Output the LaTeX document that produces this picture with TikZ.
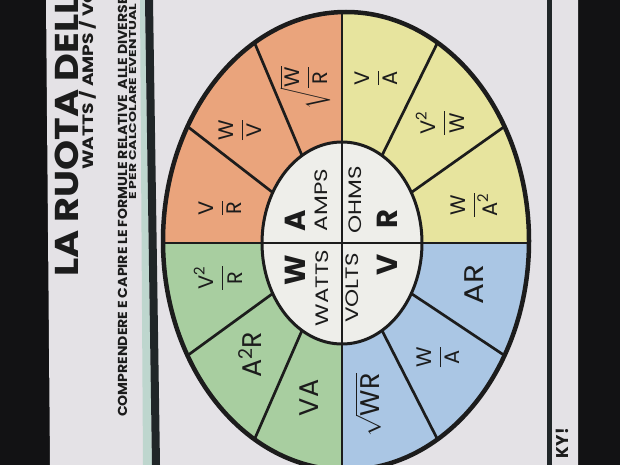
\documentclass[tikz,border=0pt]{standalone}
\usepackage{amsmath}
\usepackage{graphicx}
\usepackage{fontspec}
\setmainfont{Poppins}
\usetikzlibrary{calc}

\definecolor{photoblack}{RGB}{18,18,20}
\definecolor{paper}{RGB}{228,226,230}
\definecolor{mint}{RGB}{190,214,206}
\definecolor{frame}{RGB}{32,38,40}
\definecolor{ink}{RGB}{28,28,28}
\definecolor{ampsorange}{RGB}{234,164,124}
\definecolor{ohmsyellow}{RGB}{231,228,158}
\definecolor{voltsblue}{RGB}{170,198,228}
\definecolor{wattsgreen}{RGB}{168,206,160}
\definecolor{hub}{RGB}{238,238,234}

\newcommand{\frc}[2]{$\dfrac{\text{#1}}{\text{#2}}$}
\newcommand{\wide}[2][1.28]{\scalebox{#1}[1]{#2}}

\tikzset{
  rot/.style={rotate=90, text=ink, inner sep=0pt},
  formula/.style={rot, font=\fontsize{21}{21}\selectfont},
  single/.style={rot, font=\fontsize{27}{27}\selectfont},
  unit/.style={rot, font=\bfseries\fontsize{29}{29}\selectfont},
  unitname/.style={rot, font=\fontsize{18}{18}\selectfont},
  heading/.style={rot, anchor=base west, font=\bfseries\fontsize{#1}{#1}\selectfont},
  spoke/.style={draw=ink, line width=2.7pt},
}

\begin{document}
\begin{tikzpicture}[x=1pt, y=-1pt]
  \useasboundingbox (0,0) rectangle (620,465);
  % photo and poster
  \fill[photoblack] (0,0) rectangle (620,465);
  \fill[paper] (46,0) -- (578,0) -- (578,465) -- (50,465) -- cycle;
  \fill[mint] (140,0) -- (145,0) -- (152,465) -- (143,465) -- cycle;
  \fill[frame] (145,0) -- (153,0) -- (160,465) -- (152,465) -- cycle;
  \fill[frame] (547,0) rectangle (552,465);

  % headings
  \node[heading=33] (title) at (78,277) {\wide[1.16]{LA RUOTA DELL}};
  \node[heading=15] (subtitle) at (93,170) {\wide[1.24]{WATTS / AMPS / VO}};
  \node[heading=13] (lineone) at (127,417) {\wide[1.08]{COMPRENDERE E CAPIRE LE FORMULE RELATIVE\ \ ALLE DIVERSE}};
  \node[heading=10] (linetwo) at (136,200) {\wide[1.4]{E PER CALCOLARE EVENTUAL}};
  \node[heading=17, anchor=base east] (logo) at (568,428) {KY!};

  % wheel
  \coordinate (co) at (346,241);
  \coordinate (ci) at (342,243);
  \begin{scope}
    \clip (co) ellipse [x radius=183pt, y radius=229pt];
    \fill[ampsorange] (150,0) rectangle (342,243);
    \fill[ohmsyellow] (342,0) rectangle (540,243);
    \fill[voltsblue] (342,243) rectangle (540,475);
    \fill[wattsgreen] (150,243) rectangle (342,475);
    \fill[hub] (ci) ellipse [x radius=80pt, y radius=101pt];
    \draw[spoke] (342,0) -- (342,475);
    \draw[spoke] (150,243) -- (540,243);
  \end{scope}
  \foreach \a in {30,60,120,150,210,240,300,330}
    \draw[spoke] ($(ci)+(\a:80 and 101)$) -- ($(co)+(\a:183 and 229)$);
  \draw[ink, line width=3pt] (ci) ellipse [x radius=80pt, y radius=101pt];
  \draw[ink, line width=4.5pt] (co) ellipse [x radius=183pt, y radius=229pt];

  % amps
  \node[formula] (ampsone) at (220,208) {\frc{V}{R}};
  \node[formula] (ampstwo) at (240,130) {\frc{W}{V}};
  \node[formula] (ampsthree) at (305,88) {$\sqrt{\dfrac{\text{W}}{\text{R}}}$};
  % ohms
  \node[formula] (ohmsone) at (376,78) {\frc{V}{A}};
  \node[formula] (ohmstwo) at (440,123) {$\dfrac{\text{V}^{\text{2}}}{\text{W}}$};
  \node[formula] (ohmsthree) at (474,205) {$\dfrac{\text{W}}{\text{A}^{\text{2}}}$};
  % volts
  \node[single] (voltsone) at (474,285) {\wide[1.15]{AR}};
  \node[formula] (voltstwo) at (438,357) {\frc{W}{A}};
  \node[single] (voltsthree) at (368,405) {$\sqrt{\text{WR}}$};
  % watts
  \node[formula] (wattsone) at (218,278) {$\dfrac{\text{V}^{\text{2}}}{\text{R}}$};
  \node[single] (wattstwo) at (250,355) {A$^{\text{2}}$R};
  \node[single] (wattsthree) at (309,398) {VA};

  % hub
  \node[unit] (amps) at (295,221) {A};
  \node[unitname] (ampsname) at (321,200) {\wide{AMPS}};
  \node[unit] (watts) at (295,270) {W};
  \node[unitname] (wattsname) at (322,288) {\wide{WATTS}};
  \node[unitname] (ohmsname) at (355,200) {\wide{OHMS}};
  \node[unit] (ohms) at (387,219) {R};
  \node[unitname] (voltsname) at (352,288) {\wide{VOLTS}};
  \node[unit] (volts) at (387,265) {V};
\end{tikzpicture}
\end{document}
